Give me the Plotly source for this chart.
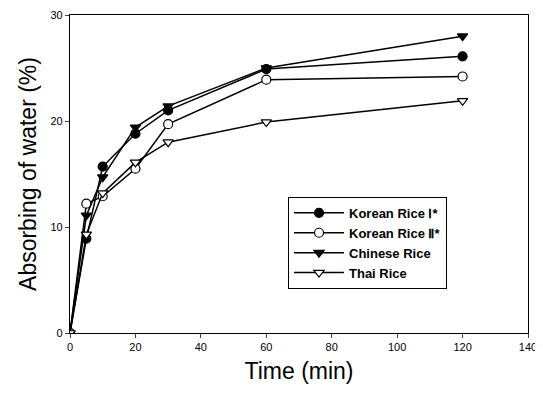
import plotly.graph_objects as go

time_min = [0, 5, 10, 20, 30, 60, 120]
korean_1 = [0, 8.9, 15.7, 18.8, 21.0, 24.9, 26.1]
korean_2 = [0, 12.2, 12.9, 15.5, 19.7, 23.9, 24.2]
chinese = [0, 11.1, 14.7, 19.4, 21.4, 25.0, 28.0]
thai = [0, 9.3, 13.2, 16.1, 18.0, 19.9, 21.9]

series_names = ["Korean Rice Ⅰ*", "Korean Rice Ⅱ*", "Chinese Rice", "Thai Rice"]
x_ticks = [0, 20, 40, 60, 80, 100, 120, 140]
y_ticks = [0, 10, 20, 30]

fig = go.Figure()
specs = [
    (korean_1, "circle", "black"),
    (korean_2, "circle", "white"),
    (chinese, "triangle-down", "black"),
    (thai, "triangle-down", "white"),
]
for (vals, sym, fill), name in zip(specs, series_names):
    fig.add_trace(go.Scatter(
        x=time_min, y=vals, name=name, mode="lines+markers",
        line=dict(color="black", width=1.5),
        marker=dict(symbol=sym, size=9, color=fill, line=dict(color="black", width=1.2)),
    ))

fig.update_layout(
    width=535, height=386,
    margin=dict(l=62, r=15, t=7, b=61, autoexpand=False),
    paper_bgcolor="white", plot_bgcolor="white",
    font=dict(family="Arial, Liberation Sans, sans-serif", color="black"),
    showlegend=True,
    legend=dict(
        x=0.476, y=0.428, xanchor="left", yanchor="top",
        bordercolor="black", borderwidth=1, bgcolor="white",
        font=dict(size=13, family="Liberation Sans, Arial, sans-serif", color="black", weight="bold"),
        tracegroupgap=0, itemwidth=50, entrywidth=120, entrywidthmode="pixels",
    ),
    xaxis=dict(
        range=[0, 140], tickvals=x_ticks, ticks="outside", ticklen=4, tickwidth=1,
        showline=True, linecolor="black", linewidth=1.2, mirror=True, showgrid=False, zeroline=False,
        tickfont=dict(size=11), automargin=False,
        title=dict(text="Time (min)", font=dict(size=23), standoff=10),
    ),
    yaxis=dict(
        range=[0, 30], tickvals=y_ticks, ticks="outside", ticklen=4, tickwidth=1,
        showline=True, linecolor="black", linewidth=1.2, mirror=True, showgrid=False, zeroline=False,
        tickfont=dict(size=11), automargin=False,
        title=dict(text="Absorbing of water (%)", font=dict(size=23), standoff=7),
    ),
)

fig.write_html("out.html")
